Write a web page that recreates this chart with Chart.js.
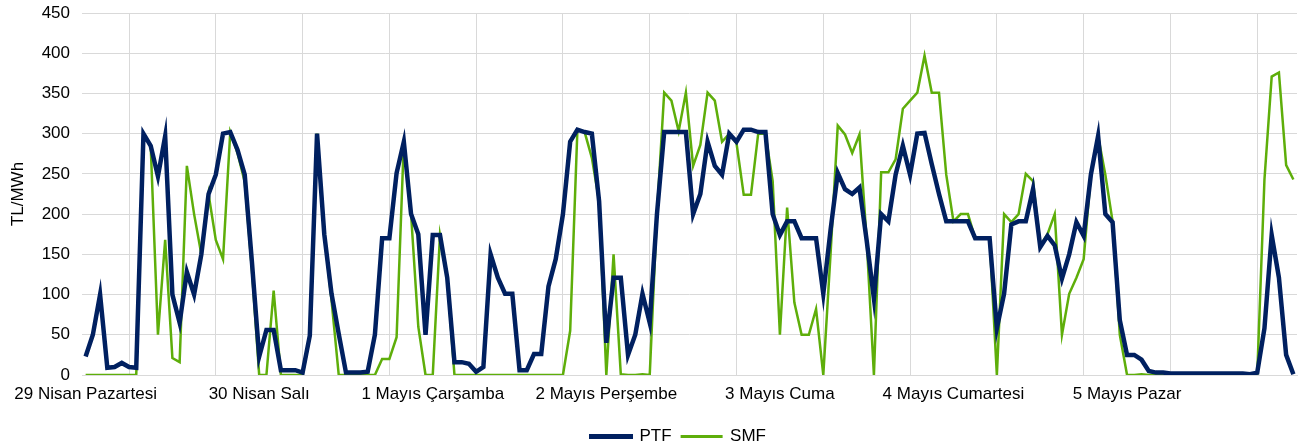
<!DOCTYPE html>
<html>
<head>
<meta charset="utf-8">
<script src="https://cdn.jsdelivr.net/npm/chart.js@4.4.1/dist/chart.umd.min.js"></script>
<style>
  body { margin: 0; background: #fff; }
  #wrap { width: 1299px; height: 448px; }
</style>
</head>
<body>
<div id="wrap"><canvas id="chart"></canvas></div>
<script>
// day labels, one per 24 hourly points
const days = ["29 Nisan Pazartesi", "30 Nisan Salı", "1 Mayıs Çarşamba", "2 Mayıs Perşembe",
  "3 Mayıs Cuma", "4 Mayıs Cumartesi", "5 Mayıs Pazar"];

const yTicks = [0, 50, 100, 150, 200, 250, 300, 350, 400, 450];

// PTF hourly values (TL/MWh)
const ptf = [
  23, 50, 100, 9, 10, 15, 10, 9, 300, 285, 247, 297, 100, 65, 128, 100, 150, 225, 249, 300, 302, 280, 249, 140,
  23, 56, 56, 6, 6, 6, 3, 49, 300, 175, 101, 51, 3, 3, 3, 4, 50, 170, 170, 251, 290, 200, 175, 50,
  174, 174, 121, 16, 16, 14, 4, 10, 150, 121, 101, 101, 6, 6, 26, 26, 110, 144, 200, 290, 305, 302, 300, 216,
  40, 121, 121, 25, 50, 101, 65, 200, 302, 302, 302, 302, 200, 225, 290, 260, 249, 300, 290, 305, 305, 302, 302, 200,
  174, 191, 191, 170, 170, 170, 101, 180, 251, 231, 225, 233, 167, 95, 200, 191, 249, 285, 249, 300, 301, 262, 225, 191,
  191, 191, 191, 170, 170, 170, 58, 101, 187, 191, 191, 231, 159, 173, 161, 120, 150, 190, 173, 249, 297, 200, 190, 68,
  25, 25, 19, 5, 3, 3, 2, 2, 2, 2, 2, 2, 2, 2, 2, 2, 2, 1, 3, 58, 174, 121, 25, 1
];

// SMF hourly values (TL/MWh)
const smf = [
  0, 0, 0, 0, 0, 0, 0, 0, 300, 285, 50, 168, 21, 16, 260, 200, 150, 225, 168, 144, 302, 276, 240, 130,
  0, 0, 105, 0, 0, 0, 0, 47, 300, 175, 93, 0, 0, 0, 0, 0, 0, 20, 20, 47, 290, 200, 60, 0,
  0, 174, 121, 0, 0, 0, 0, 0, 0, 0, 0, 0, 0, 0, 0, 0, 0, 0, 0, 55, 305, 302, 270, 216,
  0, 150, 1, 0, 0, 1, 0, 200, 351, 341, 303, 351, 260, 286, 351, 341, 290, 300, 288, 224, 224, 300, 300, 241,
  50, 208, 90, 50, 50, 82, 0, 150, 310, 299, 276, 299, 167, 0, 252, 252, 268, 331, 341, 351, 397, 351, 351, 249,
  191, 200, 200, 170, 170, 170, 0, 200, 190, 200, 250, 241, 161, 175, 200, 50, 101, 121, 144, 249, 297, 249, 191, 50,
  0, 0, 1, 0, 0, 0, 0, 0, 0, 0, 0, 0, 0, 0, 0, 0, 0, 0, 0, 243, 371, 376, 261, 243
];

const labels = ptf.map((v, i) => i);
const gridCol = "#D9D9D9";
const font = { family: "'Liberation Sans', Arial, sans-serif", size: 17 };
const legendThick = { PTF: 4, SMF: 2 };

// nudge the legend a little left, as in the original
const legendShift = {
  id: "legendShift",
  afterLayout(chart) {
    chart.legend.left -= 11;
    chart.legend.right -= 11;
  }
};

new Chart(document.getElementById("chart"), {
  type: "line",
  data: {
    labels: labels,
    datasets: [
      { label: "PTF", data: ptf, borderColor: "#002060", backgroundColor: "#002060",
        borderWidth: 4.5, pointRadius: 0, tension: 0 },
      { label: "SMF", data: smf, borderColor: "#5EAE0A", backgroundColor: "#5EAE0A",
        borderWidth: 2.5, pointRadius: 0, tension: 0 }
    ]
  },
  plugins: [legendShift],
  options: {
    responsive: true,
    maintainAspectRatio: false,
    animation: false,
    layout: { padding: { left: 0, right: 2, top: 13, bottom: -7 } },
    plugins: {
      tooltip: { enabled: false },
      legend: {
        position: "bottom",
        fullSize: false,
        labels: {
          color: "#000", font: font, boxWidth: 40, boxHeight: 1, padding: 10,
          generateLabels: chart => Chart.defaults.plugins.legend.labels.generateLabels(chart)
            .map(it => Object.assign(it, { lineWidth: legendThick[it.text] }))
        }
      }
    },
    scales: {
      x: {
        offset: true,
        grid: { offset: true, color: gridCol, drawTicks: false },
        border: { color: gridCol },
        ticks: {
          color: "#000", font: font, autoSkip: false, maxRotation: 0, padding: 9,
          callback: (v, i) => i % 24 === 0 ? days[i / 24] : (i % 12 === 0 ? "" : null)
        },
        afterFit: s => { s.height = 43; }
      },
      y: {
        min: 0, max: 450,
        afterBuildTicks: s => { s.ticks = yTicks.map(v => ({ value: v })); },
        grid: { color: gridCol, drawTicks: false },
        border: { display: false },
        ticks: { color: "#000", font: font, padding: 12 },
        title: { display: true, text: "TL/MWh", color: "#000", font: font, padding: { top: 8, bottom: 0 } },
        afterFit: s => { s.width = 82; s.paddingTop = 0; s.paddingBottom = 0; }
      }
    }
  }
});
</script>
</body>
</html>
